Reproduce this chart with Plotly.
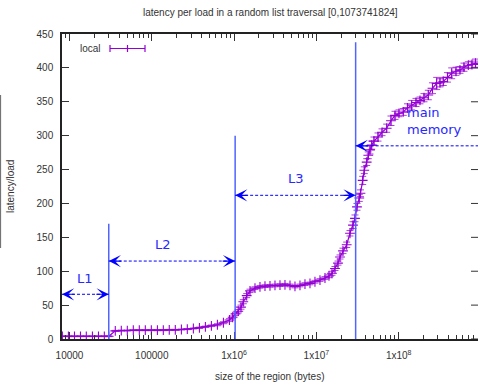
import math
import plotly.graph_objects as go

# ---------------- data ----------------
# region sizes in bytes, grouped by cache level
size_l1 = [8192, 9700, 11500, 13600, 16000, 19000, 22500, 26500, 30000]
lat_l1 = [4, 4, 4, 4, 4, 4, 4, 4, 4]
err_l1 = [0.5] * 9

size_l2 = [36000, 42600, 50400, 59600, 70500, 83400, 98700, 117000, 138000, 163000,
           193000, 229000, 270000, 320000, 379000, 448000, 530000, 627000, 742000,
           878000, 960000, 1040000]
lat_l2 = [12, 12.5, 12.5, 13, 13, 13, 13, 13, 13, 13.5, 13.5, 14, 14.5, 15.5, 16.5,
          18, 19.5, 21, 24, 28, 32, 37]
err_l2 = [0.7] * 14 + [1, 1, 1.2, 1.5, 1.5, 2, 2, 2.5]

size_l3 = [1125000, 1213000, 1294000, 1423000, 1561000, 1795000, 2064000, 2374000,
           2731000, 3141000, 3612000, 4154000, 4778000, 5495000, 6320000, 7268000,
           8360000, 9610000, 11060000, 12720000, 14230000, 15470000, 16830000,
           18300000, 19360000, 21050000, 23350000, 25610000, 27840000, 29440000,
           31130000, 33200000, 34330000, 36520000, 38190000, 40850000, 42720000,
           44800000, 46970000]
lat_l3 = [41, 47, 55, 64, 71, 75, 77, 78, 78.5, 79, 79.5, 80, 79, 77.5, 79, 81, 82,
          84.5, 87, 90, 93, 97, 104, 112, 121, 130, 139, 156, 168, 178, 195, 208, 215,
          234, 249, 261, 271, 279, 286]
err_l3 = [2.5, 3, 3, 3, 2.5, 2, 2, 2] + [2] * 10 + [2, 2, 2.5, 3, 3, 3] + \
         [3, 4, 4, 4, 5, 5] + [5, 5, 5, 6, 5, 5, 5, 6, 6]

size_mem = [50100000, 56050000, 62700000, 71500000, 80600000, 90200000, 100800000,
            113700000, 127900000, 143900000, 162300000, 181500000, 203000000,
            229000000, 257500000, 289500000, 317500000, 348300000, 391700000,
            440600000, 496900000, 555700000, 621400000, 701100000, 777300000,
            857500000, 945600000]
lat_mem = [292, 298, 305, 311, 322, 330, 333, 335, 341, 345, 349, 352, 356, 360, 370,
           377, 378, 380, 386, 392, 395, 397, 401, 404, 405, 407, 405]
err_mem = [6, 6, 5, 6, 7, 6, 5, 5, 6, 7, 6, 5, 6, 7, 8, 9, 6, 6, 7, 8, 6, 5, 6, 5, 5, 6, 5]

sizes = size_l1 + size_l2 + size_l3 + size_mem
latency = lat_l1 + lat_l2 + lat_l3 + lat_mem
latency_err = err_l1 + err_l2 + err_l3 + err_mem

# cache boundaries (bytes) and the heights of their marker lines
bound_x = [30000, 1030000, 30000000]
bound_top = [170, 300, 438]
# dashed double arrows: (from, to, level); None = runs to the plot edge
arrow_from = [None, 30000, 1030000, 30000000]
arrow_to = [30000, 1030000, 30000000, None]
arrow_level = [66, 115, 212, 285]
# level labels
label_text = ["L1", "L2", "L3", "main<br>memory"]
label_x = [15400, 137000, 5650000, 119000000]
label_y = [90, 140, 237, 322]

x_tickvals = [1e4, 1e5, 1e6, 1e7, 1e8]
x_ticktext = ["10000", "100000", "1x10<sup>6</sup>", "1x10<sup>7</sup>", "1x10<sup>8</sup>"]
y_tickvals = [0, 50, 100, 150, 200, 250, 300, 350, 400, 450]

X_MIN, X_MAX = 8110, 9.2e8

PURPLE = "#9400D3"
BLUE = "#0000ff"
LINEBLUE = "rgb(80,100,255)"
TXT = "#333333"
FONT = "Liberation Sans, Arial, sans-serif"

fig = go.Figure()
fig.add_trace(go.Scatter(
    x=sizes, y=latency, mode="lines+markers",
    line=dict(color=PURPLE, width=1.2),
    marker=dict(symbol="cross-thin", size=7, line=dict(color=PURPLE, width=1.1)),
    error_y=dict(type="data", array=latency_err, visible=True,
                 color="rgba(148,0,211,0.75)", thickness=1, width=3.5),
    showlegend=False,
))

shapes = []
annotations = []

# cache boundary lines
for bx, bt in zip(bound_x, bound_top):
    shapes.append(dict(type="line", xref="x", yref="y", x0=bx, x1=bx, y0=0, y1=bt,
                       line=dict(color=LINEBLUE, width=1.5)))

# dashed arrows with heads at both ends (an edge end has its head outside the view,
# except at the left axis where the head is visible)
for a0, a1, lv in zip(arrow_from, arrow_to, arrow_level):
    sx0 = a0 if a0 is not None else X_MIN
    sx1 = a1 if a1 is not None else X_MAX
    shapes.append(dict(type="line", xref="x", yref="y", x0=sx0, x1=sx1, y0=lv, y1=lv,
                       line=dict(color=BLUE, width=1, dash="3px,2px")))
    heads = [(sx0, 14)]
    if a1 is not None:
        heads.append((sx1, -14))
    for ex, off in heads:
        annotations.append(dict(x=math.log10(ex), y=lv, xref="x", yref="y",
                                ax=off, ay=0, text="", showarrow=True,
                                arrowhead=3, arrowsize=1.7, arrowwidth=1.2,
                                arrowcolor=BLUE, standoff=0))

# level labels
for t, lx, ly in zip(label_text, label_x, label_y):
    is_mem = "memory" in t
    annotations.append(dict(x=math.log10(lx), y=ly, xref="x", yref="y", text=t,
                            showarrow=False, align="left",
                            xanchor="left" if is_mem else "center",
                            font=dict(family="DejaVu Sans", size=13, color="rgb(40,40,255)")))

# right-side mirrored y ticks (no right axis line)
for yv in y_tickvals:
    shapes.append(dict(type="line", xref="paper", yref="y", xsizemode="pixel",
                       xanchor=1, x0=-7, x1=0, y0=yv, y1=yv,
                       line=dict(color=TXT, width=1)))

# legend sample
def px_x(p):
    return (p - 62) / 416.0

def px_y(p):
    return (339 - p) / 305.0

ly = px_y(48.5)
dy = 3.5 / 305.0
shapes += [
    dict(type="line", xref="paper", yref="paper", x0=px_x(110), x1=px_x(145), y0=ly, y1=ly,
         line=dict(color=PURPLE, width=1.2)),
    dict(type="line", xref="paper", yref="paper", x0=px_x(110), x1=px_x(110), y0=ly - dy, y1=ly + dy,
         line=dict(color=PURPLE, width=1.2)),
    dict(type="line", xref="paper", yref="paper", x0=px_x(145), x1=px_x(145), y0=ly - dy, y1=ly + dy,
         line=dict(color=PURPLE, width=1.2)),
    dict(type="line", xref="paper", yref="paper", x0=px_x(127.5), x1=px_x(127.5), y0=ly - dy, y1=ly + dy,
         line=dict(color=PURPLE, width=1.2)),
]
annotations.append(dict(x=px_x(103), y=ly, xref="paper", yref="paper", text="local",
                        showarrow=False, xanchor="right", yanchor="middle",
                        font=dict(family=FONT, size=10, color=TXT)))

# stray gray bar at the very left edge
shapes.append(dict(type="line", xref="paper", yref="paper", x0=px_x(0.6), x1=px_x(0.6),
                   y0=px_y(95), y1=px_y(248), line=dict(color="#666666", width=1)))

# titles
annotations.append(dict(x=px_x(270), y=px_y(12), xref="paper", yref="paper",
                        text="latency per load in a random list traversal [0,1073741824]",
                        showarrow=False, xanchor="center", yanchor="middle",
                        font=dict(family=FONT, size=10, color=TXT)))
annotations.append(dict(x=px_x(270), y=px_y(376), xref="paper", yref="paper",
                        text="size of the region (bytes)",
                        showarrow=False, xanchor="center", yanchor="middle",
                        font=dict(family=FONT, size=10, color=TXT)))
annotations.append(dict(x=px_x(10), y=px_y(187), xref="paper", yref="paper",
                        text="latency/load", textangle=-90,
                        showarrow=False, xanchor="center", yanchor="middle",
                        font=dict(family=FONT, size=10, color=TXT)))

minor_vals = [m * 10 ** e for e in range(3, 9) for m in range(2, 10)
              if X_MIN <= m * 10 ** e <= X_MAX]

fig.update_layout(
    width=478, height=382,
    margin=dict(l=62, r=0, t=34, b=43, pad=0),
    paper_bgcolor="white", plot_bgcolor="white",
    font=dict(family=FONT, size=10, color=TXT),
    shapes=shapes, annotations=annotations,
    showlegend=False,
)
fig.update_xaxes(
    type="log", range=[math.log10(X_MIN), math.log10(X_MAX)],
    tickmode="array", tickvals=x_tickvals, ticktext=x_ticktext,
    ticks="inside", ticklen=7, tickwidth=1, tickcolor=TXT,
    showline=True, linecolor="#222222", linewidth=1.5, mirror="allticks",
    showgrid=False, zeroline=False, ticklabelstandoff=6,
    tickfont=dict(family=FONT, size=10, color=TXT),
    minor=dict(tickmode="array", tickvals=minor_vals, ticks="inside", ticklen=4,
               tickwidth=1, tickcolor=TXT, showgrid=False),
)
fig.update_yaxes(
    range=[0, 450], tickmode="array", tickvals=y_tickvals,
    ticks="inside", ticklen=7, tickwidth=1, tickcolor=TXT,
    showline=True, linecolor="#222222", linewidth=1.5,
    showgrid=False, zeroline=False, ticklabelstandoff=5,
    tickfont=dict(family=FONT, size=10, color=TXT),
)

fig.write_html(
    "out.html",
    config={"displayModeBar": False},
    post_script="document.body.style.margin='0px';document.body.style.overflow='hidden';",
)
